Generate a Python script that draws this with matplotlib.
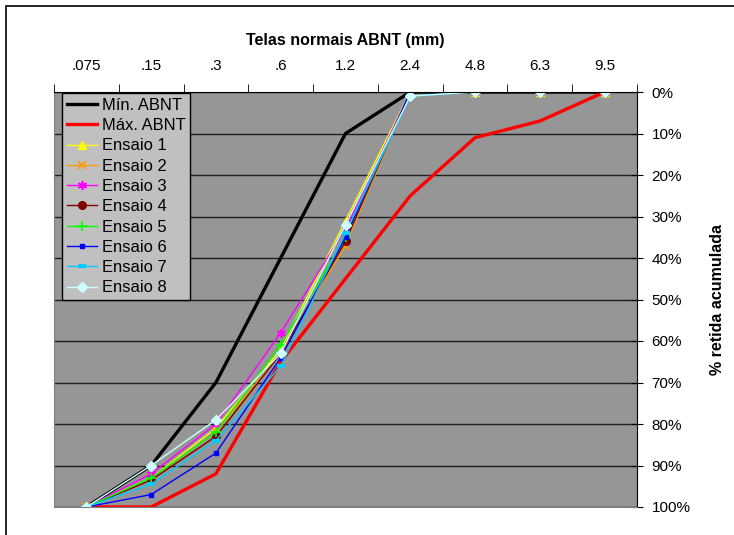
import numpy as np
import matplotlib
matplotlib.use('Agg')
import matplotlib.pyplot as plt
from matplotlib.patches import Rectangle

plt.rcParams['font.family'] = ['Liberation Sans', 'DejaVu Sans']

# categorias (peneiras) e % retida acumulada
peneiras = ['.075', '.15', '.3', '.6', '1.2', '2.4', '4.8', '6.3', '9.5']
min_abnt = [100, 90, 70, 40, 10, 0, 0, 0, 0]
max_abnt = [100, 100, 92, 65, 45, 25, 11, 7, 0]
ensaio1 = [100, 93, 81, 62, 31, 0, 0, 0, 0]
ensaio2 = [100, 93, 82, 63, 37, 0, 0, 0, 0]
ensaio3 = [100, 92, 80, 58, 33, 0, 0, 0, 0]
ensaio4 = [100, 93.5, 83, 63, 36, 0, 0, 0, 0]
ensaio5 = [100, 93, 82, 61, 35, 0, 0, 0, 0]
ensaio6 = [100, 97, 87, 64, 35, 0, 0, 0, 0]
ensaio7 = [100, 94.5, 84, 66, 34, 1, 0, 0, 0]
ensaio8 = [100, 90, 79, 63, 32, 1, 0, 0, 0]
y_ticks = [0, 10, 20, 30, 40, 50, 60, 70, 80, 90, 100]

fig = plt.figure(figsize=(7.34, 5.35), dpi=100)
# moldura externa do grafico
fig.patches.append(Rectangle((6 / 734, -0.1), 1.2, 1.1 - 6 / 535, transform=fig.transFigure,
                             fill=False, edgecolor='black', linewidth=1.2))

ax = fig.add_axes([54 / 734, 1 - 507 / 535, 583 / 734, 415 / 535])
ax.set_facecolor('#969696')
x = np.arange(len(peneiras))

ax.plot(x, min_abnt, color='black', lw=2.4, label='Mín. ABNT')
ax.plot(x, max_abnt, color='#FF0000', lw=2.4, label='Máx. ABNT')
ax.plot(x, ensaio1, color='#FFFF00', lw=1, marker='^', ms=5.5, label='Ensaio 1')
ax.plot(x, ensaio2, color='#FF9900', lw=1, marker='x', ms=5.5, mew=1.2, label='Ensaio 2')
ax.plot(x, ensaio3, color='#FF00FF', lw=1, marker=(6, 2, 0), ms=6.5, mew=1.2, label='Ensaio 3')
ax.plot(x, ensaio4, color='#800000', lw=1, marker='o', ms=5.5, label='Ensaio 4')
ax.plot(x, ensaio5, color='#00FF00', lw=1, marker='+', ms=6.5, mew=1.2, label='Ensaio 5')
ax.plot(x, ensaio6, color='#0000FF', lw=1, marker='s', ms=2.5, label='Ensaio 6')
ax.plot(x, ensaio7, color='#00CCFF', lw=1, marker='_', ms=5.5, mew=3, label='Ensaio 7')
ax.plot(x, ensaio8, color='#CCFFFF', lw=1, marker='D', ms=5.5, label='Ensaio 8')

ax.set_xlim(-0.5, len(peneiras) - 0.5)
ax.set_ylim(100, 0)

# eixo x em cima, marcas entre categorias
ax.xaxis.tick_top()
ax.set_xticks(x)
ax.set_xticklabels(peneiras, fontsize=11)
ax.tick_params(axis='x', which='major', length=0, pad=14)
ax.set_xticks(np.arange(len(peneiras) + 1) - 0.5, minor=True)
ax.tick_params(axis='x', which='minor', length=6, direction='out', color='black')
ax.set_xlabel('Telas normais ABNT (mm)', fontsize=11.5, fontweight='bold', labelpad=10)
ax.xaxis.set_label_position('top')

# eixo y a direita
ax.yaxis.tick_right()
ax.set_yticks(y_ticks)
ax.set_yticklabels([f'{v}%' for v in y_ticks], fontsize=11)
ax.tick_params(axis='y', length=9, direction='inout', pad=6)
ax.yaxis.set_label_position('right')
ax.set_ylabel('% retida acumulada', fontsize=11.5, fontweight='bold', labelpad=14)

ax.yaxis.grid(True, color='#202020', lw=1)
ax.set_axisbelow(True)
ax.spines['left'].set_color('#808080')
ax.spines['bottom'].set_color('#808080')

leg = ax.legend(loc='upper left', bbox_to_anchor=(0.0137, 0.998), borderaxespad=0,
                fontsize=11.9, facecolor='#C0C0C0', edgecolor='black', framealpha=1,
                fancybox=False, handlelength=1.8, labelspacing=0.32, borderpad=0.3,
                handletextpad=0.3)
leg.get_frame().set_linewidth(1)

fig.savefig('out.png', dpi=100)
